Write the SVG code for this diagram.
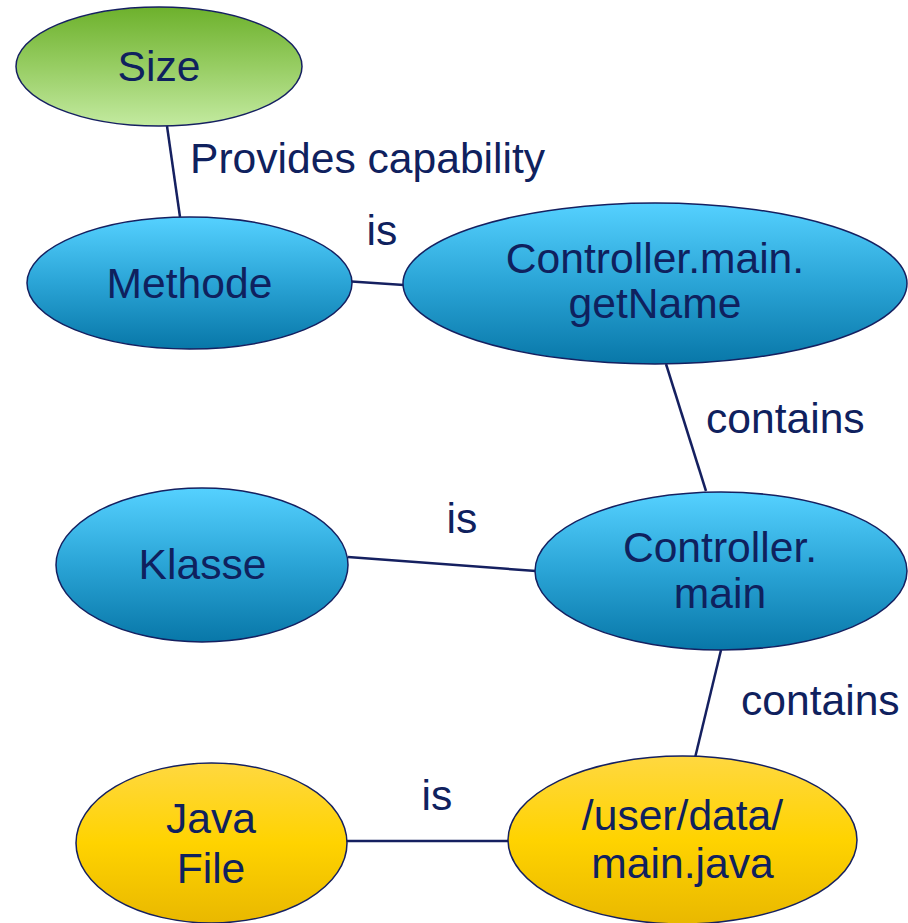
<svg xmlns="http://www.w3.org/2000/svg" width="908" height="923" viewBox="0 0 908 923">
  <defs>
    <linearGradient id="gBlue" x1="0" y1="0" x2="0" y2="1">
      <stop offset="0" stop-color="#55d1ff"/>
      <stop offset="0.5" stop-color="#2aa4d6"/>
      <stop offset="1" stop-color="#0877a8"/>
    </linearGradient>
    <linearGradient id="gGreen" x1="0" y1="0" x2="0" y2="1">
      <stop offset="0" stop-color="#6db12c"/>
      <stop offset="0.5" stop-color="#97cd63"/>
      <stop offset="1" stop-color="#c3eaa0"/>
    </linearGradient>
    <linearGradient id="gYellow" x1="0" y1="0" x2="0" y2="1">
      <stop offset="0" stop-color="#ffd840"/>
      <stop offset="0.5" stop-color="#ffd300"/>
      <stop offset="1" stop-color="#e9b800"/>
    </linearGradient>
  </defs>
  <style>
    .node { stroke: #152060; stroke-width: 1.5; }
    .edge { stroke: #152060; stroke-width: 2.5; fill: none; }
    text { font-family: "Liberation Sans", Arial, sans-serif; font-size: 42.6px; fill: #0f215e; }
    .c { text-anchor: middle; }
  </style>
  <rect width="908" height="923" fill="#ffffff"/>
  <g id="connectors">
    <line class="edge" x1="167" y1="126" x2="180" y2="217"/>
    <line class="edge" x1="344" y1="281" x2="404" y2="285"/>
    <line class="edge" x1="666" y1="364" x2="706" y2="491"/>
    <line class="edge" x1="348" y1="557" x2="536" y2="571"/>
    <line class="edge" x1="721" y1="650" x2="694" y2="762"/>
    <line class="edge" x1="344" y1="841" x2="509" y2="841"/>
    <text x="190" y="173">Provides capability</text>
    <text class="c" x="382" y="245">is</text>
    <text x="706" y="433">contains</text>
    <text class="c" x="462" y="533">is</text>
    <text x="741" y="715">contains</text>
    <text class="c" x="437" y="810">is</text>
  </g>
  <g id="size">
    <ellipse class="node" cx="159" cy="66.5" rx="143" ry="59.5" fill="url(#gGreen)"/>
    <text class="c" x="159" y="81">Size</text>
  </g>
  <g id="methode">
    <ellipse class="node" cx="189.5" cy="283" rx="162.5" ry="66" fill="url(#gBlue)"/>
    <text class="c" x="189.5" y="298">Methode</text>
  </g>
  <g id="getname">
    <ellipse class="node" cx="655" cy="283.5" rx="252" ry="80.5" fill="url(#gBlue)"/>
    <text class="c" x="655" y="273">Controller.main.</text>
    <text class="c" x="655" y="318">getName</text>
  </g>
  <g id="klasse">
    <ellipse class="node" cx="202" cy="565" rx="146" ry="77" fill="url(#gBlue)"/>
    <text class="c" x="202.5" y="579">Klasse</text>
  </g>
  <g id="controllermain">
    <ellipse class="node" cx="721" cy="571" rx="186" ry="79" fill="url(#gBlue)"/>
    <text class="c" x="720" y="562">Controller.</text>
    <text class="c" x="720" y="608">main</text>
  </g>
  <g id="javafile">
    <ellipse class="node" cx="211.5" cy="843" rx="135.5" ry="80" fill="url(#gYellow)"/>
    <text class="c" x="211" y="833">Java</text>
    <text class="c" x="211" y="883">File</text>
  </g>
  <g id="mainjava">
    <ellipse class="node" cx="682.5" cy="840" rx="174.5" ry="84" fill="url(#gYellow)"/>
    <text class="c" x="682.5" y="830">/user/data/</text>
    <text class="c" x="682.5" y="878">main.java</text>
  </g>
</svg>
